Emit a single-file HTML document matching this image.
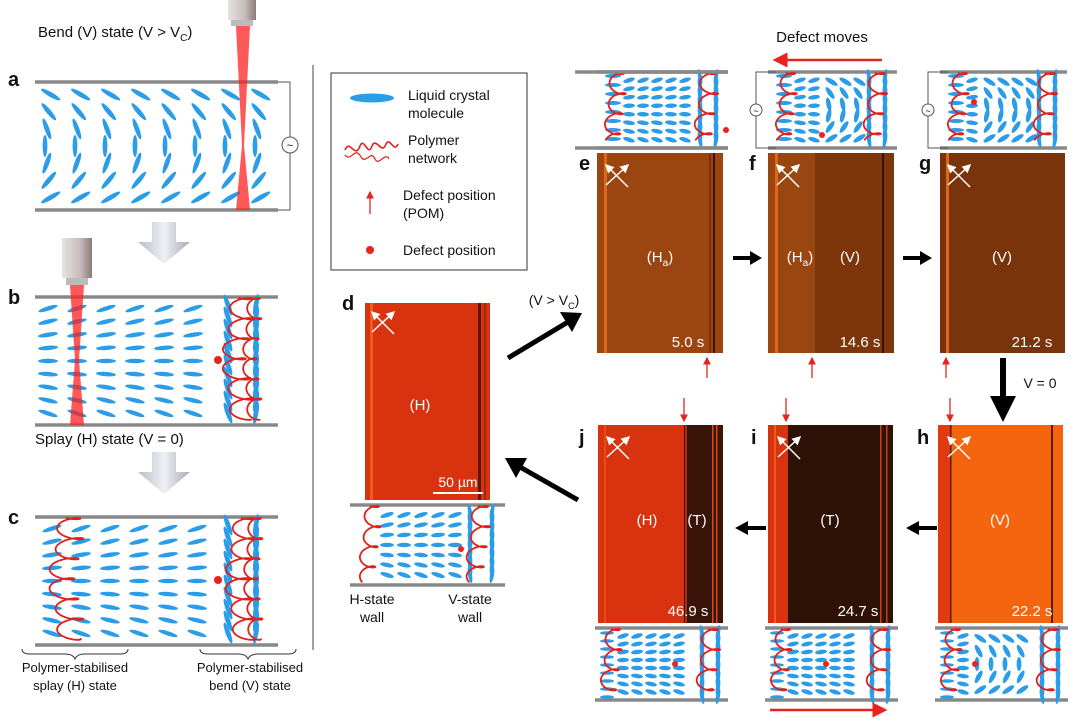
<!DOCTYPE html><html><head><meta charset="utf-8"><style>
html,body{margin:0;padding:0;background:#fff;width:1080px;height:720px;overflow:hidden}
svg text{font-family:"Liberation Sans",sans-serif}
</style></head><body>
<svg id="s" width="1080" height="720" viewBox="0 0 1080 720" xmlns="http://www.w3.org/2000/svg">
<defs>
<linearGradient id="gr" x1="0" x2="1"><stop offset="0" stop-color="#b8bcc6"/><stop offset=".5" stop-color="#eef0f4"/><stop offset="1" stop-color="#a8acb6"/></linearGradient>
<linearGradient id="ob" x1="0" x2="1"><stop offset="0" stop-color="#e8e2e2"/><stop offset=".6" stop-color="#c8bcbc"/><stop offset="1" stop-color="#8a7a7a"/></linearGradient>
<marker id="ar" markerWidth="6" markerHeight="6" refX="5" refY="3" orient="auto"><path d="M0,0L6,3L0,6z" fill="#e8231e"/></marker>
<marker id="aw" markerWidth="6" markerHeight="6" refX="5" refY="3" orient="auto"><path d="M0,0L6,3L0,6z" fill="#fff"/></marker>
</defs>
<g id="g"></g>
<g font-size="15" fill="#111">
<text x="38" y="37">Bend (V) state (V &gt; V<tspan font-size="10" dy="4">C</tspan><tspan dy="-4">)</tspan></text>
<text x="35" y="444">Splay (H) state (V = 0)</text>
</g>
<g font-size="20" font-weight="bold" fill="#111">
<text x="8" y="86">a</text><text x="8" y="304">b</text><text x="8" y="524">c</text>
<text x="342" y="310">d</text><text x="579" y="170">e</text><text x="749" y="170">f</text><text x="919" y="170">g</text>
<text x="579" y="444">j</text><text x="751" y="444">i</text><text x="917" y="444">h</text>
</g>
<g font-size="13" fill="#111" text-anchor="middle">
<text x="75" y="672">Polymer-stabilised</text><text x="75" y="690">splay (H) state</text>
<text x="250" y="672">Polymer-stabilised</text><text x="250" y="690">bend (V) state</text>
<text x="372" y="604" font-size="14">H-state</text><text x="372" y="622" font-size="14">wall</text>
<text x="470" y="604" font-size="14">V-state</text><text x="470" y="622" font-size="14">wall</text>
<text x="822" y="42" font-size="15">Defect moves</text>
<text x="554" y="305" font-size="14">(V &gt; V<tspan font-size="9" dy="4">C</tspan><tspan dy="-4">)</tspan></text>
<text x="1040" y="388" font-size="14">V = 0</text>
</g>
<g font-size="14" fill="#111">
<text x="408" y="100">Liquid crystal</text><text x="408" y="118">molecule</text>
<text x="408" y="145">Polymer</text><text x="408" y="163">network</text>
<text x="403" y="200">Defect position</text><text x="403" y="218">(POM)</text>
<text x="403" y="255">Defect position</text>
</g>
</svg>
<script>
var g=document.getElementById('g'),h='';
function E(s){h+=s}
var B='#2a9ce8';
function mol(x,y,a,l,w){l=l||10;w=w||2.4;E('<ellipse cx="'+x+'" cy="'+y+'" rx="'+l+'" ry="'+w+'" fill="'+B+'" transform="rotate('+a+' '+x+' '+y+')"/>')}
function plates(x0,x1,y0,y1){E('<line x1="'+x0+'" y1="'+y0+'" x2="'+x1+'" y2="'+y0+'" stroke="#888" stroke-width="3.5"/><line x1="'+x0+'" y1="'+y1+'" x2="'+x1+'" y2="'+y1+'" stroke="#888" stroke-width="3.5"/>')}
function bendCol(x,y0,y1,n,L){var H=y1-y0;for(var i=0;i<n;i++){var t=(i+.5)/n,y=y0+t*H;var a=90+( t<.5? -(1-2*t)*70 : (2*t-1)*70);mol(x+(t<.5?(1-2*t):(2*t-1))*L*0.6,y,a,L,2.4)}}
function splayCol(x,y0,y1,n,L){var H=y1-y0;for(var i=0;i<n;i++){var t=(i+.5)/n;mol(x,y0+t*H,(t-.5)*40,L,2.2)}}
function poly(x,y0,y1,amp){var T=(y1-y0)/3.2,p='';for(var t=0;t<=T;t+=0.15){var xx=x+amp*Math.sin(t)+amp*0.35*Math.sin(t*0.23);var yy=y0+t*3.2+4.5*Math.cos(t)-4.5;if(yy<y0)yy=y0;if(yy>y1)yy=y1;p+=(p?' L':'M')+xx.toFixed(1)+','+yy.toFixed(1)}E('<path d="'+p+'" fill="none" stroke="#e0201c" stroke-width="1.8"/>')}
function dot(x,y,r){E('<circle cx="'+x+'" cy="'+y+'" r="'+(r||3)+'" fill="#e8231e"/>')}
plates(35,278,82,210);
for(var k=0;k<8;k++)bendCol(45+k*30,86,206,7,11);
E('<polyline points="278,82 290,82 290,210 278,210" fill="none" stroke="#555"/><circle cx="290" cy="145" r="8" fill="#fff" stroke="#555"/><text x="290" y="149" text-anchor="middle" font-size="11">~</text>');
E('<rect x="228" y="0" width="28" height="20" fill="url(#ob)"/><rect x="231" y="20" width="22" height="6" fill="#bbb"/><path d="M236,26 L250,26 L244,145 L250,210 L236,210 L242,145z" fill="#ff2020" opacity=".75"/>');
E('<path d="M152,222 L176,222 L176,242 L190,242 L164,264 L138,242 L152,242z" fill="url(#gr)"/>');
plates(35,278,297,425);
for(var k=0;k<6;k++)splayCol(48+k*29,302,420,9,10);
for(var y=305;y<420;y+=12){mol(228,y,60+ (y%24?10:-10),11,2.4);mol(256,y,100,11,2.4)}
poly(238,298,424,12);poly(252,298,424,7);dot(218,360,4);
E('<rect x="62" y="238" width="30" height="40" fill="url(#ob)"/><rect x="66" y="278" width="22" height="7" fill="#bbb"/><path d="M70,285 L84,285 L79,360 L84,425 L70,425 L75,360z" fill="#ff2020" opacity=".75"/>');
E('<path d="M152,452 L176,452 L176,472 L190,472 L164,494 L138,472 L152,472z" fill="url(#gr)"/>');
plates(35,278,517,645);
for(var k=0;k<6;k++)splayCol(52+k*29,522,640,9,10);
for(var y=525;y<640;y+=12){mol(228,y,70,11,2.4);mol(256,y,100,11,2.4)}
poly(66,518,645,13);poly(241,518,645,12);poly(253,518,645,7);dot(218,580,4);
E('<path d="M22,649 q0,5 8,5 h35 q8,0 10,5 q2,-5 10,-5 h35 q8,0 8,-5" fill="none" stroke="#333"/>');
E('<path d="M200,649 q0,5 8,5 h30 q8,0 10,5 q2,-5 10,-5 h30 q8,0 8,-5" fill="none" stroke="#333"/>');
E('<line x1="313" y1="65" x2="313" y2="650" stroke="#444"/>');
E('<rect x="331" y="73" width="196" height="197" fill="#fff" stroke="#333"/>');
mol(372,98,0,22,4.5);
E('<path d="M345,150 c5,-12 10,10 15,-4 c4,-10 8,12 12,0 c4,-10 10,10 14,-2 c4,-8 8,10 12,0" fill="none" stroke="#e0201c" stroke-width="1.6"/><path d="M345,155 c6,8 10,-10 16,2 c5,8 10,-8 14,2 c4,8 10,-8 14,0" fill="none" stroke="#e0201c" stroke-width="1.2"/>');
E('<line x1="370" y1="214" x2="370" y2="192" stroke="#e8231e" stroke-width="1.3" marker-end="url(#ar)"/>');dot(370,250,4);
function img(x,y,w,hh,fill){E('<rect x="'+x+'" y="'+y+'" width="'+w+'" height="'+hh+'" fill="'+fill+'"/>')}
function vl(x,y,hh,c,w){E('<rect x="'+x+'" y="'+y+'" width="'+(w||2)+'" height="'+hh+'" fill="'+c+'"/>')}
function cross(x,y){E('<line x1="'+x+'" y1="'+(y+20)+'" x2="'+(x+22)+'" y2="'+y+'" stroke="#fff" stroke-width="1.5" marker-end="url(#aw)"/><line x1="'+(x+22)+'" y1="'+(y+22)+'" x2="'+x+'" y2="'+y+'" stroke="#fff" stroke-width="1.5" marker-end="url(#aw)"/>')}
function lab(x,y,t,s){E('<text x="'+x+'" y="'+y+'" fill="#fff" font-size="'+(s||15)+'" text-anchor="middle">'+t+'</text>')}
img(365,303,125,197,'#d8320f');vl(370,303,197,'#f25a1a',3);vl(478,303,197,'#5a1808',3);vl(484,303,197,'#a02a0c',2);cross(372,312);
lab(420,410,'(H)');lab(458,487,'50 µm',14);E('<line x1="433" y1="493" x2="483" y2="493" stroke="#fff" stroke-width="2"/>');
plates(350,505,505,585);
for(var k=0;k<5;k++)splayCol(387+k*17,510,580,7,7);
for(var y=512;y<582;y+=9){mol(470,y,80,8,2);mol(492,y,100,8,2)}
poly(370,506,584,8);poly(478,506,584,9);dot(461,549,3);
E('<line x1="508" y1="358" x2="568" y2="322" stroke="#000" stroke-width="5"/><path d="M582,313 L560,312 L572,332z" fill="#000"/>');
E('<line x1="578" y1="500" x2="520" y2="467" stroke="#000" stroke-width="5"/><path d="M505,458 L527,458 L516,478z" fill="#000"/>');
function topCell(x0,x1,mode,dx){plates(x0,x1,72,148);
 E('<polyline points="'+(x0+8)+',72 '+(x0-12)+',72 '+(x0-12)+',148 '+(x0+8)+',148" fill="none" stroke="#555"/><circle cx="'+(x0-12)+'" cy="110" r="6" fill="#fff" stroke="#555"/><text x="'+(x0-12)+'" y="114" text-anchor="middle" font-size="9">~</text>');
 var L=x0+10;
 for(var y=76;y<146;y+=9)mol(L+6,y,0,8,2);
 for(var xx=L+22;xx<x1-35;xx+=14){if(xx<dx)splayCol(xx,76,144,8,6);else bendCol(xx,76,144,6,7)}
 for(var y=77;y<146;y+=9){mol(x1-28,y,80,8,2);mol(x1-12,y,100,8,2)}
 poly(L+8,73,147,8);poly(x1-22,73,147,9);dot(dx-4,mode,3);}
topCell(597,728,130,730);E('<rect x="565" y="60" width="32" height="95" fill="#fff"/>');plates(575,728,72,148);
topCell(768,897,135,826);topCell(940,1067,102,978);
E('<line x1="882" y1="60" x2="775" y2="60" stroke="#e8231e" stroke-width="2.5" marker-end="url(#ar)"/>');
img(597,153,126,200,'#9b4510');vl(604,153,200,'#e0661a',3);vl(709,153,200,'#7a3008',2);vl(713,153,200,'#3a1206',2);cross(606,165);lab(660,262,'(H<tspan font-size="10" dy="4">a</tspan><tspan dy="-4">)</tspan>');lab(688,347,'5.0 s');
img(768,153,126,200,'#9a4610');img(815,153,79,200,'#7d360c');vl(775,153,200,'#e0661a',3);vl(882,153,200,'#3a1206',2);cross(777,165);lab(800,262,'(H<tspan font-size="10" dy="4">a</tspan><tspan dy="-4">)</tspan>');lab(850,262,'(V)');lab(860,347,'14.6 s');
img(940,153,125,200,'#7a340c');vl(946,153,200,'#e0661a',3);cross(948,165);lab(1002,262,'(V)');lab(1032,347,'21.2 s');
E('<line x1="733" y1="258" x2="752" y2="258" stroke="#000" stroke-width="4"/><path d="M762,258 L750,251 L750,265z" fill="#000"/>');
E('<line x1="903" y1="258" x2="922" y2="258" stroke="#000" stroke-width="4"/><path d="M932,258 L920,251 L920,265z" fill="#000"/>');
E('<line x1="937" y1="528" x2="918" y2="528" stroke="#000" stroke-width="4"/><path d="M906,528 L919,521 L919,535z" fill="#000"/>');
E('<line x1="766" y1="528" x2="747" y2="528" stroke="#000" stroke-width="4"/><path d="M735,528 L748,521 L748,535z" fill="#000"/>');
[707,812,946].forEach(function(x){E('<line x1="'+x+'" y1="378" x2="'+x+'" y2="358" stroke="#e8231e" stroke-width="1.3" marker-end="url(#ar)"/>')});
[684,786,950].forEach(function(x){E('<line x1="'+x+'" y1="398" x2="'+x+'" y2="421" stroke="#e8231e" stroke-width="1.3" marker-end="url(#ar)"/>')});
E('<line x1="1003" y1="358" x2="1003" y2="400" stroke="#000" stroke-width="6"/><path d="M990,396 L1016,396 L1003,422z" fill="#000"/>');
img(598,425,125,198,'#d8320f');img(684,425,39,198,'#3a1408');vl(685,425,198,'#b02a0c',2);vl(712,425,198,'#d84a10',1.5);vl(716,425,198,'#d84a10',1.5);vl(604,425,198,'#ee4a14',2);cross(607,437);lab(647,525,'(H)');lab(697,525,'(T)');lab(688,616,'46.9 s');
img(768,425,125,198,'#2e1206');img(768,425,20,198,'#d8320f');vl(774,425,198,'#ee5a18',2);vl(880,425,198,'#c8400e',1.5);vl(886,425,198,'#c8400e',1.5);cross(778,437);lab(830,525,'(T)');lab(858,616,'24.7 s');
img(938,425,125,198,'#f5640e');img(938,425,12,198,'#e23a10');vl(950,425,198,'#5a1e08',1.5);vl(1051,425,198,'#5a1e08',2);cross(948,437);lab(1000,525,'(V)');lab(1032,616,'22.2 s');
function botCell(x0,x1,dx,vmode){plates(x0,x1,628,700);var L=x0+8;
 for(var xx=L+20;xx<x1-35;xx+=14){if(vmode&&xx>dx)bendCol(xx,632,696,5,7);else splayCol(xx,632,696,8,6)}
 for(var y=633;y<698;y+=8)mol(L+4,y,0,7,1.8);
 for(var y=633;y<698;y+=9){mol(x1-26,y,80,8,2);mol(x1-10,y,100,8,2)}
 poly(L+8,629,699,8);poly(x1-20,629,699,9);dot(dx,664,3);}
botCell(595,728,675,false);botCell(765,898,826,false);botCell(935,1068,975,true);
E('<line x1="770" y1="710" x2="885" y2="710" stroke="#e8231e" stroke-width="2.5" marker-end="url(#ar)"/>');
g.innerHTML=h;
</script>
</body></html>
